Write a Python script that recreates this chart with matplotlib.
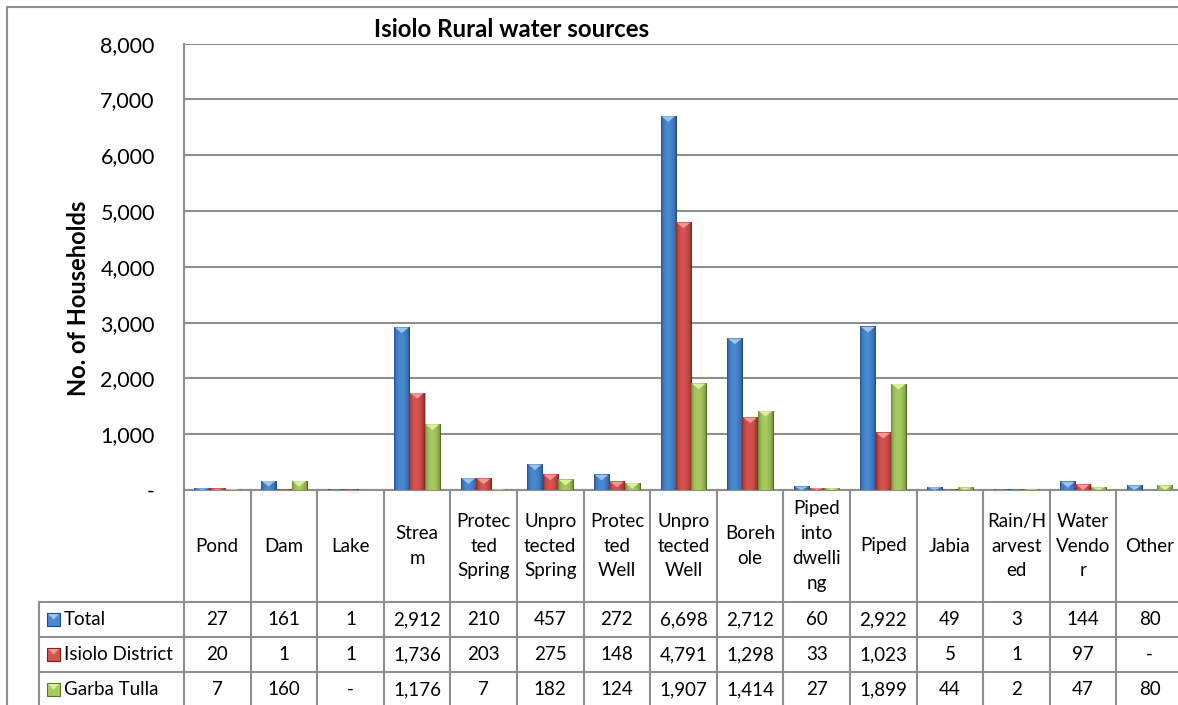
import numpy as np
import matplotlib
matplotlib.use("Agg")
import matplotlib.pyplot as plt
from matplotlib.patches import Polygon, Rectangle
from matplotlib.lines import Line2D
from matplotlib import transforms

# ---- data -------------------------------------------------------------
categories = ["Pond", "Dam", "Lake", "Strea\nm", "Protec\nted\nSpring",
              "Unpro\ntected\nSpring", "Protec\nted\nWell", "Unpro\ntected\nWell",
              "Boreh\nole", "Piped\ninto\ndwelli\nng", "Piped", "Jabia",
              "Rain/H\narvest\ned", "Water\nVendo\nr", "Other"]
series_names = ["Total", "Isiolo District", "Garba Tulla"]
total = [27, 161, 1, 2912, 210, 457, 272, 6698, 2712, 60, 2922, 49, 3, 144, 80]
isiolo_district = [20, 1, 1, 1736, 203, 275, 148, 4791, 1298, 33, 1023, 5, 1, 97, 0]
garba_tulla = [7, 160, 0, 1176, 7, 182, 124, 1907, 1414, 27, 1899, 44, 2, 47, 80]
y_ticks = [0, 1000, 2000, 3000, 4000, 5000, 6000, 7000, 8000]

title = "Isiolo Rural water sources"
y_label = "No. of Households"

# ---- styling ------------------------------------------------------------
# (edge colour, centre colour, cap colour) for the bevelled bars
palette = [("#1d4a80", "#4a88d2", "#9cc3f0"),
           ("#7e1f1c", "#d4544f", "#ef9a95"),
           ("#5a7724", "#a9ca62", "#dcef9c")]
grid_col = "#8e8e8e"
plt.rcParams['font.family'] = ['Lato', 'DejaVu Sans']
table_fs = 13.5

W, H = 1178, 705
fig = plt.figure(figsize=(W / 100, H / 100), dpi=100)


def fx(px):
    return px / W


def fy(py):
    return 1 - py / H


top_px, zero_px = 43.7, 490.0
ax = fig.add_axes([fx(184), fy(zero_px), 999 / W, (zero_px - top_px) / H])
ax.set_xlim(-0.5, len(categories) - 0.5)
ax.set_ylim(y_ticks[0], y_ticks[-1])

# gridlines and axes
ax.set_yticks(y_ticks)
ax.set_yticklabels(["-" if v == 0 else f"{v:,}" for v in y_ticks], fontsize=15.5)
ax.tick_params(axis='y', length=0, pad=21)
ax.set_xticks([])
ax.yaxis.grid(True, color=grid_col, lw=1.5)
ax.set_axisbelow(True)
for s in ("top", "right"):
    ax.spines[s].set_visible(False)
for s in ("left", "bottom"):
    ax.spines[s].set_color(grid_col)
    ax.spines[s].set_linewidth(1.5)

ax.set_ylabel(y_label, fontsize=17, fontweight='bold')
ax.yaxis.set_label_coords(-0.094, 0.43)


def gradient_row(edge, mid, n=64):
    e = np.array(matplotlib.colors.to_rgb(edge))
    m = np.array(matplotlib.colors.to_rgb(mid))
    t = np.linspace(0, 1, n)
    f = np.clip(np.sin(np.pi * np.clip(t ** 0.85, 0, 1)), 0, 1) ** 0.55
    return (e[None, :] + (m - e)[None, :] * f[:, None])[None, :, :]


bar_w = 0.23
cap_units = 100
x = np.arange(len(categories))
series = [total, isiolo_district, garba_tulla]
for k, vals in enumerate(series):
    edge, mid, cap = palette[k]
    bars = ax.bar(x + (k - 1) * bar_w, vals, width=bar_w, color=mid,
                  edgecolor='none', zorder=2)
    grad = gradient_row(edge, mid)
    for b in bars:
        bx, bw, bh = b.get_x(), b.get_width(), b.get_height()
        if bh <= 0:
            continue
        ax.imshow(grad, extent=[bx, bx + bw, 0, bh], aspect='auto',
                  interpolation='bilinear', zorder=3)
        ch = min(cap_units, bh)
        ax.add_patch(Polygon([[bx + bw * 0.06, bh], [bx + bw * 0.94, bh],
                              [bx + bw * 0.5, bh - ch]], closed=True,
                             facecolor=cap, edgecolor='none', zorder=4))
        ax.add_patch(Rectangle((bx + bw, 0), bw * 0.05, bh, facecolor='#303030',
                               alpha=0.35, edgecolor='none', zorder=3))
ax.set_xlim(-0.5, len(categories) - 0.5)
ax.set_ylim(y_ticks[0], y_ticks[-1])

# title
fig.text(fx(512), fy(37), title, ha='center', va='baseline',
         fontsize=17.3, fontweight='bold')

# ---- data table -------------------------------------------------------
trans = transforms.blended_transform_factory(ax.transData, fig.transFigure)
row_lines = [602, 637, 672, 707]
tab_bottom = 707
leg_left = 39

for i in range(len(categories) + 1):
    xi = i - 0.5
    fig.add_artist(Line2D([xi, xi], [fy(zero_px), fy(tab_bottom)], transform=trans,
                          color=grid_col, lw=1.5))
fig.add_artist(Line2D([fx(leg_left), fx(leg_left)], [fy(row_lines[0]), fy(tab_bottom)],
                      color=grid_col, lw=1.5))
for ry in row_lines:
    fig.add_artist(Line2D([fx(leg_left), 1.0], [fy(ry), fy(ry)],
                          color=grid_col, lw=1.5))

head_y = fy((zero_px + row_lines[0]) / 2)
for i, c in enumerate(categories):
    fig.text(i, head_y, c, transform=trans, ha='center', va='center',
             multialignment='center', fontsize=table_fs, linespacing=1.55)

for r, (name, vals) in enumerate(zip(series_names, series)):
    cy_px = (row_lines[r] + row_lines[r + 1]) / 2
    cy = fy(cy_px)
    for i, v in enumerate(vals):
        fig.text(i, cy, "-" if v == 0 else f"{v:,}", transform=trans,
                 ha='center', va='center', fontsize=table_fs)
    edge, mid, cap = palette[r]
    ks = 13
    kx0, ky0 = 47, cy_px + ks / 2
    fig.add_artist(Rectangle((fx(kx0), fy(ky0)), ks / W, ks / H,
                             facecolor=mid, edgecolor=edge, lw=0.8))
    fig.add_artist(Polygon([[fx(kx0 + 1), fy(ky0 - ks + 1)],
                            [fx(kx0 + ks - 1), fy(ky0 - ks + 1)],
                            [fx(kx0 + ks / 2), fy(ky0 - ks / 2)]],
                           closed=True, facecolor=cap, edgecolor='none'))
    fig.text(fx(64), cy, name, ha='left', va='center', fontsize=table_fs)

# outer chart frame
fig.add_artist(Line2D([fx(7), fx(7), 1.0], [0.0, fy(7), fy(7)],
                      color=grid_col, lw=1.5))

fig.savefig("out.png", dpi=100)
